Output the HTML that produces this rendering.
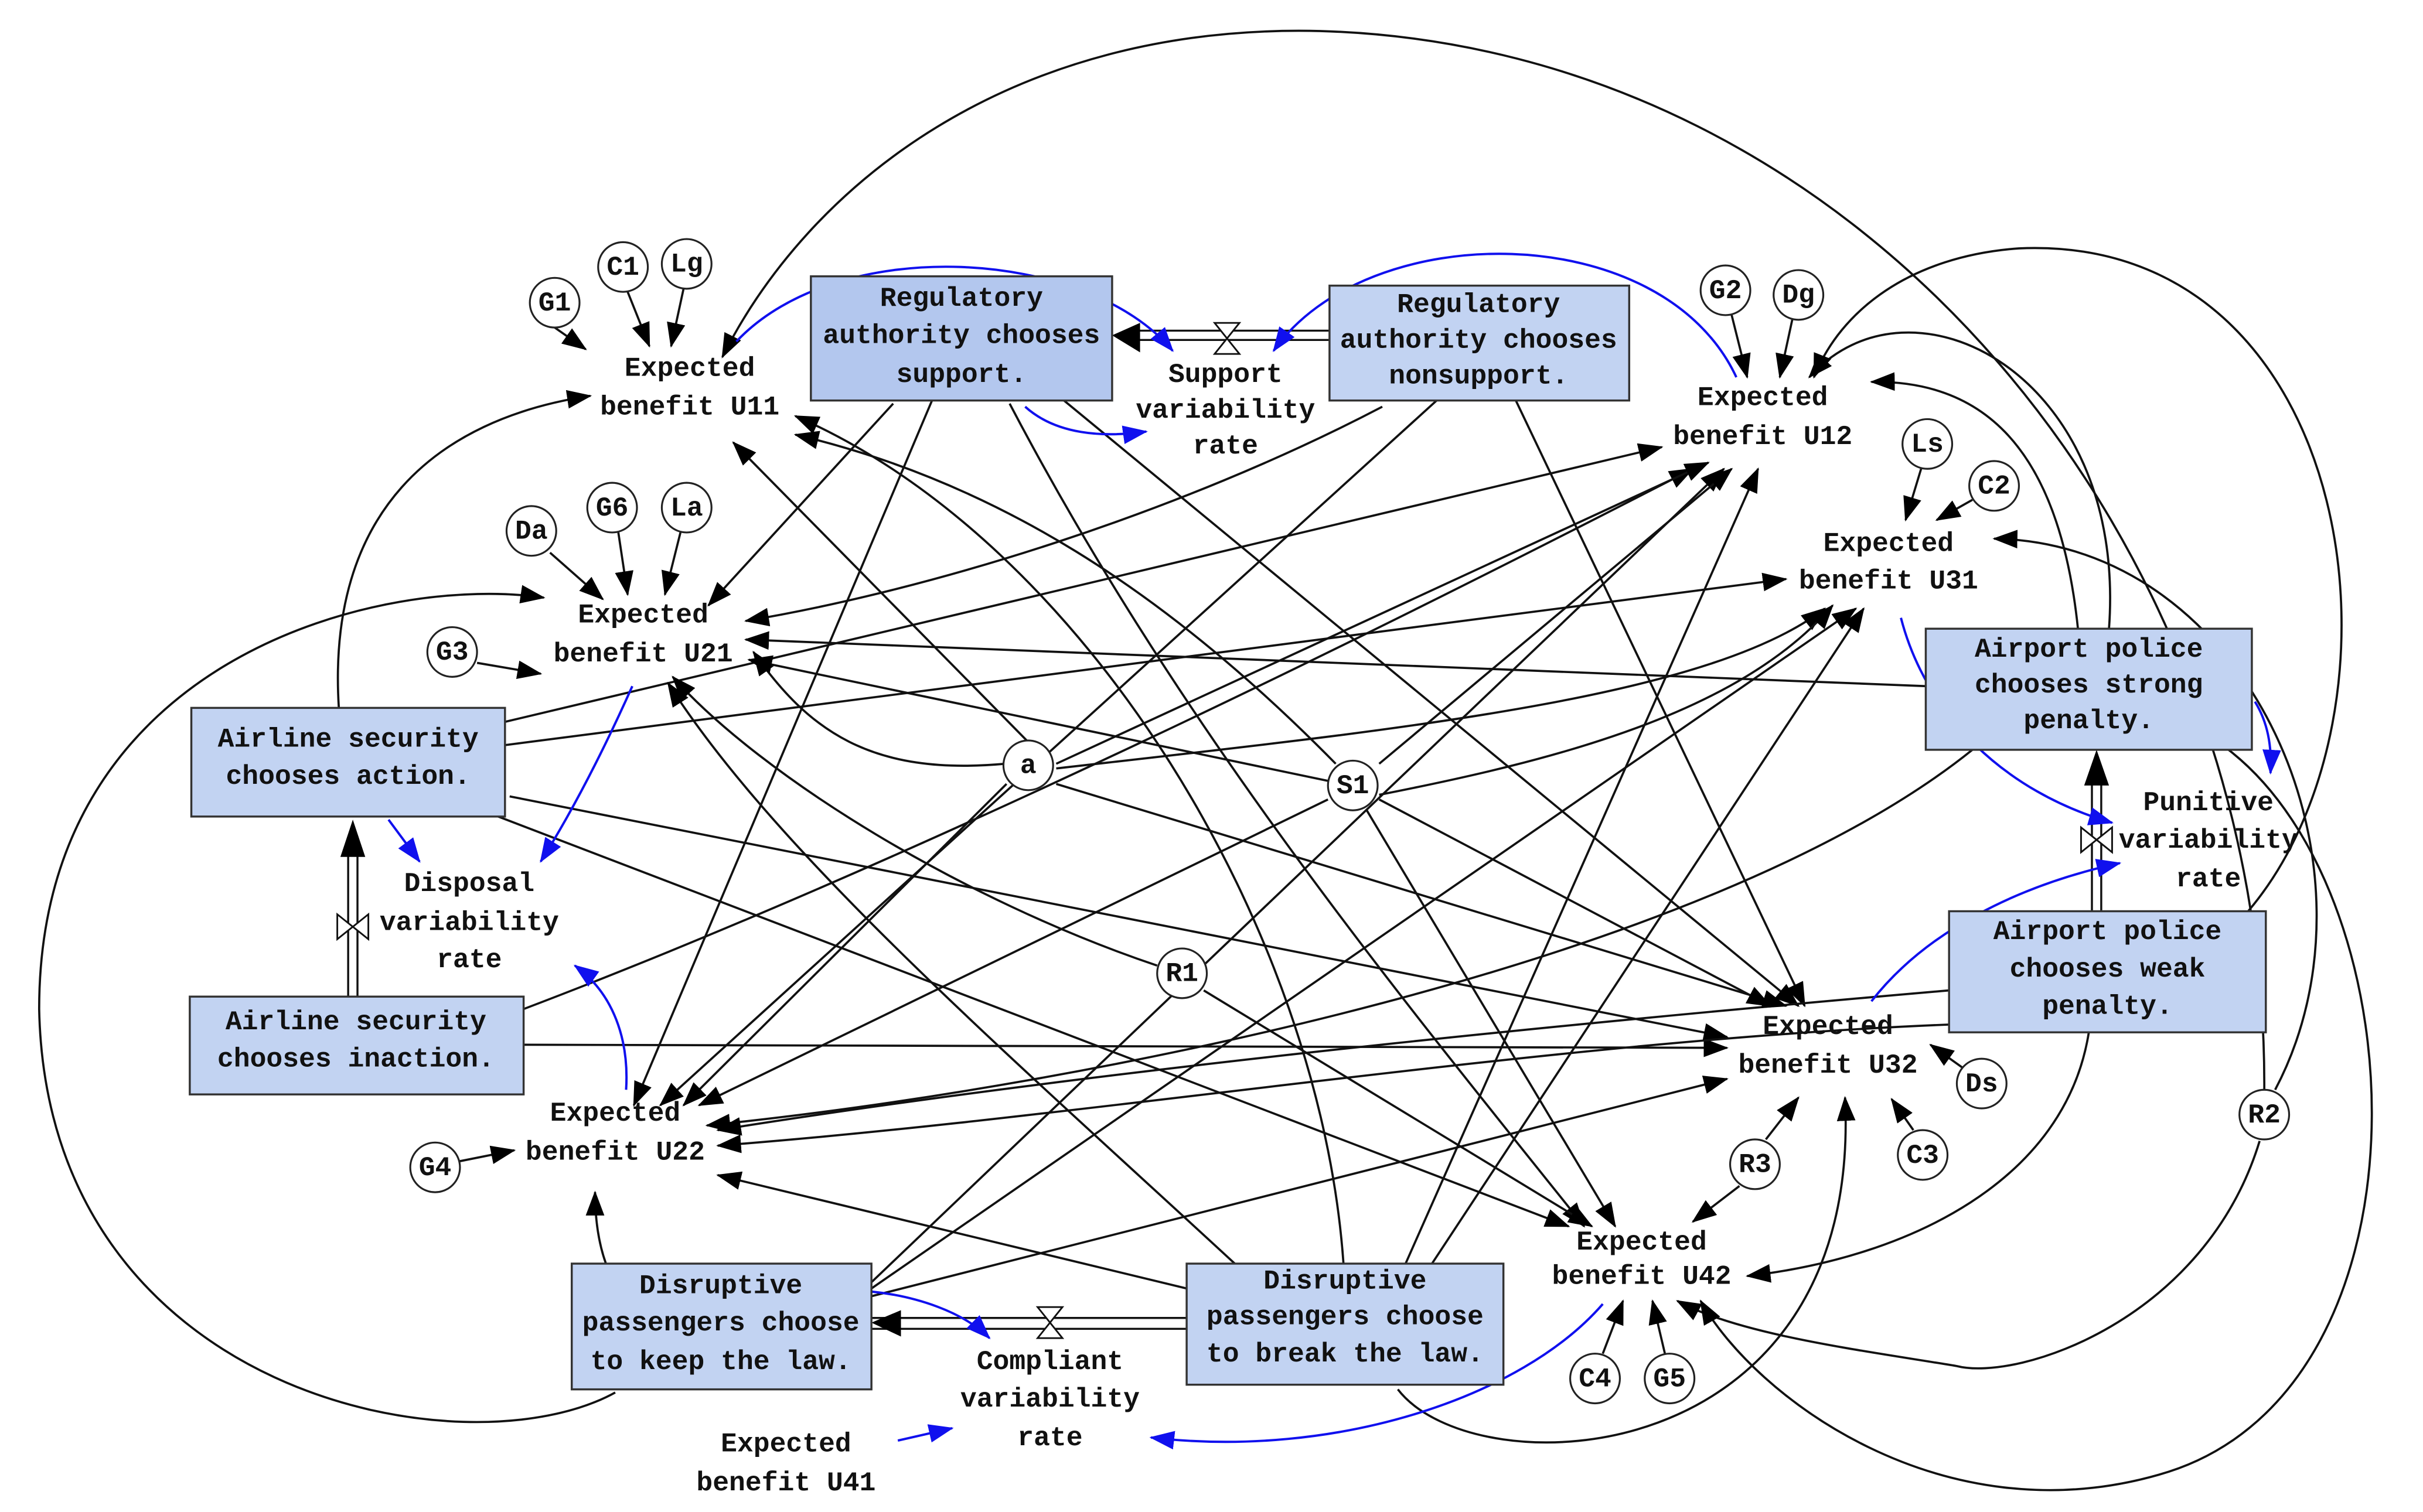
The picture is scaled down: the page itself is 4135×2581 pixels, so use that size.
<!DOCTYPE html>
<html><head><meta charset="utf-8"><style>
html,body{margin:0;padding:0;background:#fff}
svg{display:block}
text{font-family:"Liberation Mono",monospace;font-size:17.5px;font-weight:bold;fill:#111;text-anchor:middle}
.b{fill:#c2d3f2;stroke:#333;stroke-width:1.3}
.e{fill:none;stroke:#111;stroke-width:1.4}
.u{fill:none;stroke:#1010ee;stroke-width:1.5}
.c{fill:#fff;stroke:#222;stroke-width:1.2}
</style></head><body>
<svg width="4135" height="2581" viewBox="0 0 1560 974" xmlns="http://www.w3.org/2000/svg">
<defs>
<marker id="a" markerUnits="userSpaceOnUse" markerWidth="16" markerHeight="12" refX="15" refY="6" orient="auto"><path d="M0,0L16,6L0,12Z" fill="#000"/></marker>
<marker id="bl" markerUnits="userSpaceOnUse" markerWidth="16" markerHeight="12" refX="15" refY="6" orient="auto"><path d="M0,0L16,6L0,12Z" fill="#1010ee"/></marker>
</defs>

<g class="e" marker-end="url(#a)">
<path d="M357,211L377,225"/><path d="M404,188L418,223"/><path d="M440,186L432,223"/>
<path d="M354,356L388,386"/><path d="M398,343L404,383"/><path d="M438,343L428,383"/>
<path d="M307,427L348,434"/>
<path d="M1115,203L1125,243"/><path d="M1154,206L1146,243"/>
<path d="M1237,302L1227,335"/><path d="M1270,322L1247,335"/>
<path d="M1264,688L1243,673"/><path d="M1232,728L1218,708"/>
<path d="M1137,734L1158,707"/><path d="M1120,764L1090,787"/>
<path d="M296,748L331,741"/>
<path d="M1032,872L1045,838"/><path d="M1072,872L1064,838"/>

<path d="M575,260L456,390"/><path d="M600,258L408,712"/>
<path d="M650,260C760,470 900,640 1020,790"/><path d="M685,258L1158,648"/>
<path d="M890,262C760,330 600,380 480,400"/><path d="M925,258L425,712"/><path d="M976,258L1162,648"/>
<path d="M218,456C210,330 280,270 380,255"/>
<path d="M325,465L1070,288"/><path d="M325,480L1150,373"/>
<path d="M328,513L1112,668"/><path d="M318,525L1010,790"/>
<path d="M337,650C600,550 900,400 1090,302"/><path d="M337,673L1112,675"/>
<path d="M1240,442L480,412"/>
<path d="M1338,405C1325,280 1270,245 1205,246"/>
<path d="M1358,405C1370,240 1230,170 1165,243"/>
<path d="M1445,590C1560,460 1520,150 1300,160C1230,165 1185,200 1168,243"/>
<path d="M1270,483C1100,620 700,700 455,725"/>
<path d="M1255,638C1000,660 700,690 462,728"/>
<path d="M1345,665C1330,760 1230,810 1125,822"/>
<path d="M390,814C385,800 383,785 383,768"/>
<path d="M561,826L1110,302"/><path d="M561,830L1195,392"/><path d="M561,835L1112,695"/>
<path d="M396,897C300,950 30,900 25,650C25,420 250,370 350,385"/>
<path d="M795,814C650,680 500,550 430,440"/>
<path d="M764,830L462,757"/>
<path d="M865,814C850,600 700,350 512,268"/>
<path d="M905,814L1132,302"/><path d="M922,814L1200,392"/>
<path d="M900,895C950,960 1200,950 1188,707"/>
<path d="M662,478L472,285"/>
<path d="M647,492C560,500 520,470 485,420"/>
<path d="M680,492L1100,298"/><path d="M680,495C900,470 1100,450 1175,392"/>
<path d="M648,505L440,712"/><path d="M680,505L1150,648"/>
<path d="M855,503L482,425"/>
<path d="M860,492C750,380 640,310 512,280"/>
<path d="M888,492L1115,302"/><path d="M888,512C1000,490 1120,460 1180,390"/>
<path d="M855,515L450,712"/><path d="M888,515L1140,648"/>
<path d="M880,522L1040,790"/>
<path d="M775,638L1025,790"/>
<path d="M745,622C620,580 490,500 433,436"/>
<path d="M1458,702C1460,350 1200,30 850,20C650,15 520,120 465,230"/>
<path d="M1455,735C1420,850 1300,890 1260,880C1200,870 1120,860 1080,838"/>
<path d="M1465,702C1540,560 1450,350 1284,347"/>
<path d="M1435,483C1560,580 1570,900 1390,950C1250,990 1130,900 1095,838"/>
<path d="M1255,660C1000,670 700,720 462,738"/>
</g>

<g stroke="#111" stroke-width="1.3" fill="none">
<path d="M856,213H728M856,219H728"/>
<path d="M561,849H778M561,856H778"/>
<path d="M224,642V540M230,642V540"/>
<path d="M1347,587V495M1353,587V495"/>
</g>
<path d="M716,216L734,208L734,227Z" fill="#000"/>
<path d="M561,852L580,844L580,861Z" fill="#000"/>
<path d="M227,528L219,552L235,552Z" fill="#000"/>
<path d="M1350,483L1342,506L1358,506Z" fill="#000"/>
<g fill="#fff" stroke="#111" stroke-width="1.1">
<path d="M782,208L798,208L782,228L798,228Z"/>
<path d="M668,842L684,842L668,862L684,862Z"/>
<path d="M217,589L217,605L237,589L237,605Z"/>
<path d="M1340,533L1340,549L1360,533L1360,549Z"/>
</g>

<g class="u" marker-end="url(#bl)">
<path d="M474,220C540,150 700,160 755,226"/>
<path d="M660,262C680,280 710,282 738,278"/>
<path d="M1118,243C1070,140 880,140 820,226"/>
<path d="M407,442C390,480 370,520 348,555"/>
<path d="M250,528L270,555"/>
<path d="M403,702C405,670 395,640 370,622"/>
<path d="M1224,398C1240,460 1290,510 1360,530"/>
<path d="M1452,452C1460,465 1463,480 1462,498"/>
<path d="M1205,645C1240,600 1300,570 1365,556"/>
<path d="M561,832C590,835 620,845 637,862"/>
<path d="M1032,840C980,900 860,940 741,926"/>
<path d="M578,928L613,920"/>
</g>

<rect class="b" x="522" y="178" width="194" height="80" style="fill:#b3c7ee"/>
<rect class="b" x="856" y="184" width="193" height="74"/>
<rect class="b" x="123" y="456" width="202" height="70"/>
<rect class="b" x="122" y="642" width="215" height="63"/>
<rect class="b" x="1240" y="405" width="210" height="78"/>
<rect class="b" x="1255" y="587" width="204" height="78"/>
<rect class="b" x="368" y="814" width="193" height="81"/>
<rect class="b" x="764" y="814" width="204" height="78"/>
<text x="619" y="197">Regulatory</text><text x="619" y="221">authority chooses</text><text x="619" y="246">support.</text>
<text x="952" y="201">Regulatory</text><text x="952" y="224">authority chooses</text><text x="952" y="247">nonsupport.</text>
<text x="224" y="481">Airline security</text><text x="224" y="505">chooses action.</text>
<text x="229" y="663">Airline security</text><text x="229" y="687">chooses inaction.</text>
<text x="1345" y="423">Airport police</text><text x="1345" y="446">chooses strong</text><text x="1345" y="469">penalty.</text>
<text x="1357" y="605">Airport police</text><text x="1357" y="629">chooses weak</text><text x="1357" y="653">penalty.</text>
<text x="464" y="833">Disruptive</text><text x="464" y="857">passengers choose</text><text x="464" y="882">to keep the law.</text>
<text x="866" y="830">Disruptive</text><text x="866" y="853">passengers choose</text><text x="866" y="877">to break the law.</text>

<text x="444" y="242">Expected</text><text x="444" y="267">benefit U11</text>
<text x="414" y="401">Expected</text><text x="414" y="426">benefit U21</text>
<text x="396" y="722">Expected</text><text x="396" y="747">benefit U22</text>
<text x="1135" y="261">Expected</text><text x="1135" y="286">benefit U12</text>
<text x="1216" y="355">Expected</text><text x="1216" y="379">benefit U31</text>
<text x="1177" y="666">Expected</text><text x="1177" y="691">benefit U32</text>
<text x="1057" y="805">Expected</text><text x="1057" y="827">benefit U42</text>
<text x="506" y="935">Expected</text><text x="506" y="960">benefit U41</text>
<text x="789" y="246">Support</text><text x="789" y="269">variability</text><text x="789" y="292">rate</text>
<text x="302" y="574">Disposal</text><text x="302" y="599">variability</text><text x="302" y="623">rate</text>
<text x="1422" y="522">Punitive</text><text x="1422" y="546">variability</text><text x="1422" y="571">rate</text>
<text x="676" y="882">Compliant</text><text x="676" y="906">variability</text><text x="676" y="931">rate</text>

<g>
<circle class="c" cx="357" cy="195" r="16"/><text x="357" y="200">G1</text>
<circle class="c" cx="401" cy="172" r="16"/><text x="401" y="177">C1</text>
<circle class="c" cx="442" cy="170" r="16"/><text x="442" y="175">Lg</text>
<circle class="c" cx="342" cy="342" r="16"/><text x="342" y="347">Da</text>
<circle class="c" cx="394" cy="327" r="16"/><text x="394" y="332">G6</text>
<circle class="c" cx="442" cy="327" r="16"/><text x="442" y="332">La</text>
<circle class="c" cx="291" cy="420" r="16"/><text x="291" y="425">G3</text>
<circle class="c" cx="1111" cy="187" r="16"/><text x="1111" y="192">G2</text>
<circle class="c" cx="1158" cy="190" r="16"/><text x="1158" y="195">Dg</text>
<circle class="c" cx="1241" cy="286" r="16"/><text x="1241" y="291">Ls</text>
<circle class="c" cx="1284" cy="313" r="16"/><text x="1284" y="318">C2</text>
<circle class="c" cx="662" cy="493" r="16"/><text x="662" y="498">a</text>
<circle class="c" cx="871" cy="506" r="16"/><text x="871" y="511">S1</text>
<circle class="c" cx="761" cy="627" r="16"/><text x="761" y="632">R1</text>
<circle class="c" cx="1276" cy="698" r="16"/><text x="1276" y="703">Ds</text>
<circle class="c" cx="1130" cy="750" r="16"/><text x="1130" y="755">R3</text>
<circle class="c" cx="1238" cy="744" r="16"/><text x="1238" y="749">C3</text>
<circle class="c" cx="1458" cy="718" r="16"/><text x="1458" y="723">R2</text>
<circle class="c" cx="280" cy="752" r="16"/><text x="280" y="757">G4</text>
<circle class="c" cx="1027" cy="888" r="16"/><text x="1027" y="893">C4</text>
<circle class="c" cx="1075" cy="888" r="16"/><text x="1075" y="893">G5</text>
</g>
</svg>
</body></html>
